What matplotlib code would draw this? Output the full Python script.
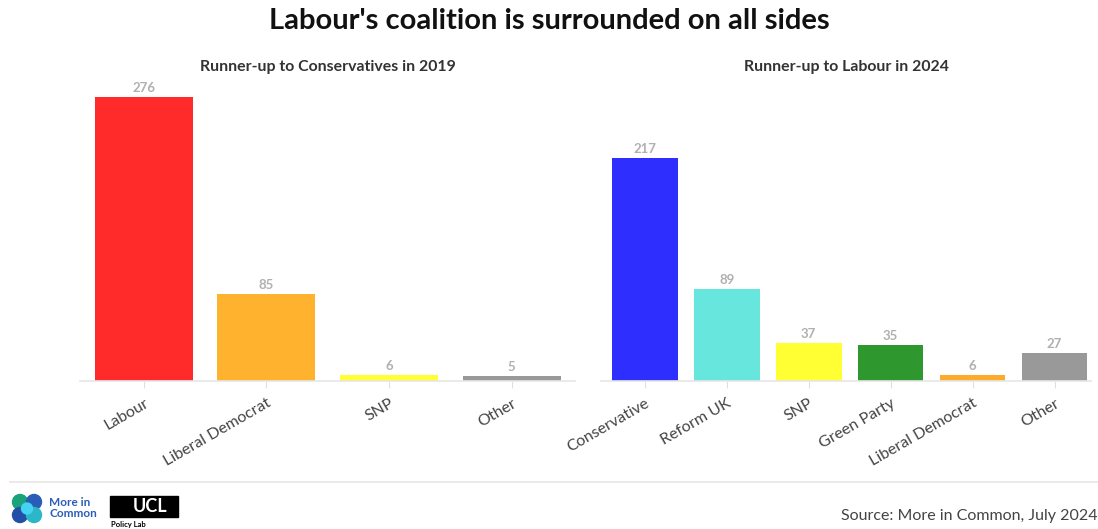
import numpy as np
import matplotlib.pyplot as plt
from matplotlib.patches import Rectangle, Circle

plt.rcParams['font.family'] = ['Lato', 'DejaVu Sans']

# data
parties_2019 = ['Labour', 'Liberal Democrat', 'SNP', 'Other']
seats_2019 = [276, 85, 6, 5]
colors_2019 = ['#ff2a2a', '#ffb22e', '#ffff33', '#999999']

parties_2024 = ['Conservative', 'Reform UK', 'SNP', 'Green Party', 'Liberal Democrat', 'Other']
seats_2024 = [217, 89, 37, 35, 6, 27]
colors_2024 = ['#2e2eff', '#66e6dd', '#ffff33', '#2e972e', '#ffaa2b', '#999999']

W, H = 1098, 529
fig = plt.figure(figsize=(W / 100, H / 100), dpi=100)

def panel(rect, names, vals, cols, title, xlim):
    ax = fig.add_axes(rect)
    x = np.arange(len(names))
    ax.bar(x, vals, width=0.8, color=cols, zorder=2)
    for xi, v in zip(x, vals):
        ax.text(xi, v + 3, str(v), ha='center', va='bottom', fontsize=9.5,
                color='#b0b0b0', fontweight='bold')
    ax.set_xlim(*xlim)
    ax.set_ylim(0, 290)
    ax.set_yticks([])
    for s in ['top', 'right', 'left']:
        ax.spines[s].set_visible(False)
    ax.spines['bottom'].set_color('#e6e6e6')
    ax.spines['bottom'].set_linewidth(1.2)
    ax.set_xticks(x)
    ax.set_xticklabels(names, rotation=30, ha='right', rotation_mode='anchor',
                       fontsize=11.5, color='#444444')
    ax.tick_params(axis='x', length=5, color='#e0e0e0', pad=6)
    ax.set_title(title, fontsize=11.4, fontweight='bold', color='#333333', pad=0,
                 y=1.04)
    return ax

panel([0.073, 0.28, 0.451, 0.563], parties_2019, seats_2019, colors_2019,
      'Runner-up to Conservatives in 2019', (-0.52, 3.52))
panel([0.547, 0.28, 0.447, 0.563], parties_2024, seats_2024, colors_2024,
      'Runner-up to Labour in 2024', (-0.54, 5.45))

fig.text(0.5, 1 - 21 / H, "Labour's coalition is surrounded on all sides", ha='center',
         va='center', fontsize=21, fontweight='bold', color='#111111')

# footer
fig.add_artist(plt.Line2D([0.009, 1.0], [1 - 482 / H, 1 - 482 / H], color='#e6e6e6', lw=1.2))
fig.text(1.0, 1 - 516 / H, 'Source: More in Common, July 2024', ha='right', va='center',
         fontsize=11.5, color='#444444')

# logos, drawn in a small axes that uses pixel units
lg = fig.add_axes([0, 0, 190 / W, 40 / H])
lg.set_xlim(0, 190)
lg.set_ylim(40, 0)
lg.set_aspect('equal')
lg.axis('off')
for (cx, cy), c in zip([(20, 13), (34, 13), (20, 26), (34, 26)],
                       ['#1aa37a', '#2a5db8', '#234fa8', '#2cb7c9']):
    lg.add_patch(Circle((cx, cy), 7.5, color=c))
lg.add_patch(Circle((27, 19.5), 5.5, color='#45d3f2'))
lg.text(49, 19, 'More in\nCommon', ha='left', va='center', fontsize=8.5,
        fontweight='bold', color='#2a5db8', linespacing=0.95)
lg.add_patch(Rectangle((110, 7), 68, 21, color='black'))
lg.text(150, 18, 'UCL', ha='center', va='center', fontsize=13, fontweight='bold',
        color='white')
lg.text(111, 35, 'Policy Lab', ha='left', va='center', fontsize=5.5,
        fontweight='bold', color='black')

fig.savefig('out.png', dpi=100, facecolor='white')
